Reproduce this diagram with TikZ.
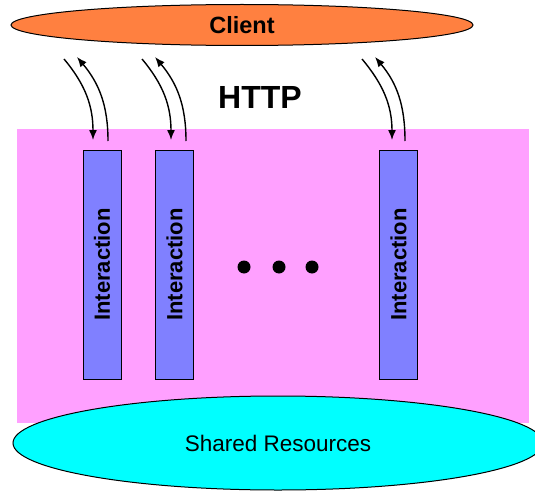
\documentclass[tikz,border=0pt]{standalone}
\usepackage{fontspec}
\setmainfont{Liberation Sans}
\usetikzlibrary{arrows.meta, shapes.geometric}

\definecolor{serverpink}{RGB}{255,160,255}
\definecolor{clientorange}{RGB}{255,128,64}
\definecolor{boxblue}{RGB}{128,128,255}
\definecolor{sharedcyan}{RGB}{0,255,255}

\begin{document}
\begin{tikzpicture}[x=1pt,y=1pt,line width=1pt,
  oval node/.style={ellipse,draw,inner sep=0pt},
  box node/.style={rectangle,draw,fill=boxblue,rotate=90,inner sep=0pt,
    minimum width=229pt,minimum height=38pt,font=\fontsize{22}{22}\selectfont\bfseries},
  dot node/.style={circle,fill=black,inner sep=0pt,minimum size=13pt},
  flow/.style={-{Latex[length=10pt,width=8pt]},line width=1.4pt}]
  \useasboundingbox (0,0) rectangle (535,491);
  \fill[serverpink] (17,68) rectangle (529,362);
  \node[oval node, fill=sharedcyan, minimum width=530pt, minimum height=94pt,
    font=\fontsize{22.5}{22.5}\selectfont] (shared) at (278,48) {Shared Resources};
  \node[box node] (ia1) at (102,226.5) {Interaction};
  \node[box node] (ia2) at (174.5,226.5) {Interaction};
  \node[box node] (ia3) at (398.5,226.5) {Interaction};
  \node[dot node] (dot1) at (244,224) {};
  \node[dot node] (dot2) at (279,224) {};
  \node[dot node] (dot3) at (312,224) {};
  \node[oval node, fill=clientorange, minimum width=462pt, minimum height=41pt,
    font=\fontsize{23.5}{23.5}\selectfont\bfseries] (client) at (242,466) {Client};
  \node[font=\fontsize{32}{32}\selectfont\bfseries] (http) at (260,394) {HTTP};
  % request / response ends
  \coordinate (d1s) at (64,432);  \coordinate (d1e) at (93,351);
  \coordinate (u1s) at (108,350); \coordinate (u1e) at (77,434);
  \coordinate (d2s) at (142,432); \coordinate (d2e) at (171,351);
  \coordinate (u2s) at (186,350); \coordinate (u2e) at (155,434);
  \coordinate (d3s) at (362,432); \coordinate (d3e) at (392,351);
  \coordinate (u3s) at (405,350); \coordinate (u3e) at (375,434);
  \draw[flow] (d1s) to[out=-50,in=90] (d1e);
  \draw[flow] (u1s) to[out=90,in=-50] (u1e);
  \draw[flow] (d2s) to[out=-50,in=90] (d2e);
  \draw[flow] (u2s) to[out=90,in=-50] (u2e);
  \draw[flow] (d3s) to[out=-50,in=90] (d3e);
  \draw[flow] (u3s) to[out=90,in=-50] (u3e);
\end{tikzpicture}
\end{document}
